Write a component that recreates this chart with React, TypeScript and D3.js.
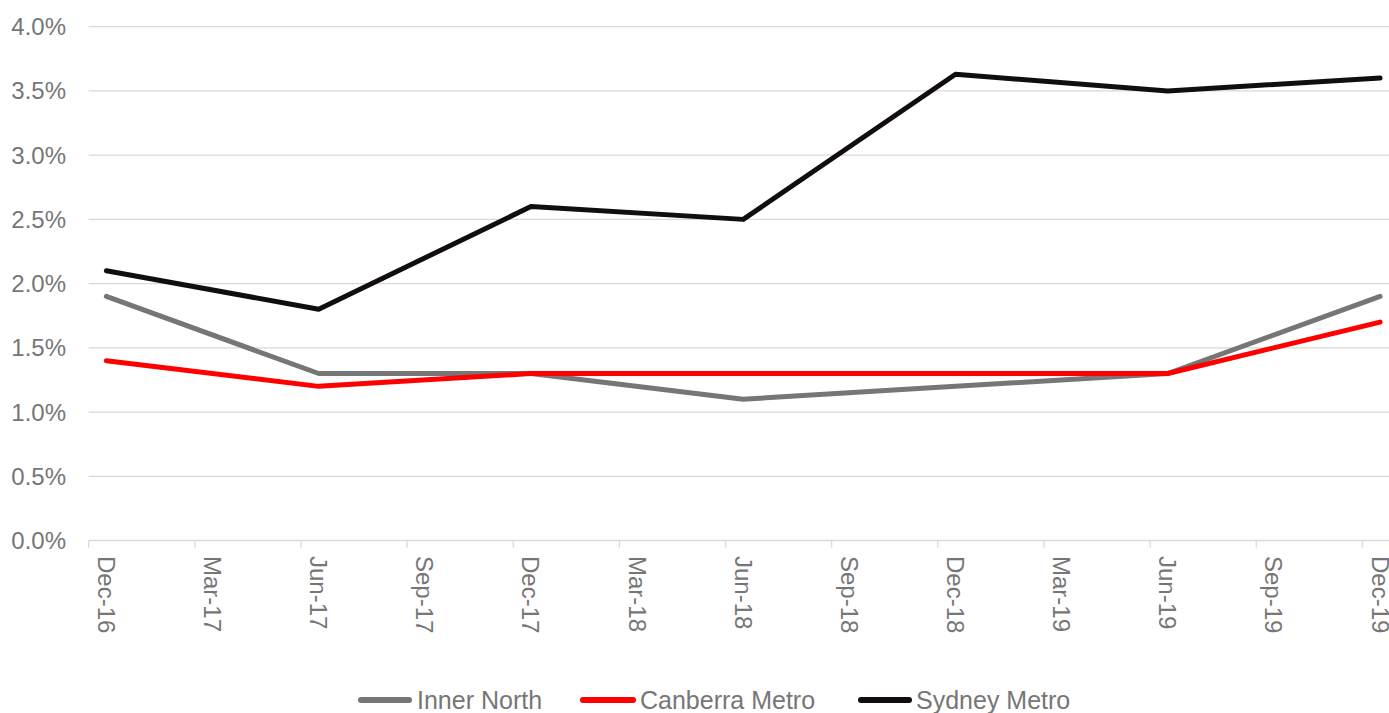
import React from "react";
import * as d3 from "d3";

// half-yearly observations
const periods = ["Dec-16", "Jun-17", "Dec-17", "Jun-18", "Dec-18", "Jun-19", "Dec-19"];
const innerNorth = [1.9, 1.3, 1.3, 1.1, 1.2, 1.3, 1.9];
const canberraMetro = [1.4, 1.2, 1.3, 1.3, 1.3, 1.3, 1.7];
const sydneyMetro = [2.1, 1.8, 2.6, 2.5, 3.63, 3.5, 3.6];

// quarterly axis labels
const tickLabels = [
  "Dec-16", "Mar-17", "Jun-17", "Sep-17", "Dec-17", "Mar-18", "Jun-18",
  "Sep-18", "Dec-18", "Mar-19", "Jun-19", "Sep-19", "Dec-19",
];
const yTicks = [0, 0.5, 1, 1.5, 2, 2.5, 3, 3.5, 4];

const seriesNames = ["Inner North", "Canberra Metro", "Sydney Metro"];
const seriesColors = ["#767676", "#ff0000", "#120e0f"];

const W = 1389;
const H = 713;
const FONT = "'Liberation Sans', Arial, sans-serif";
const TEXT = "#767676";
const GRID = "#d9d9d9";

const monthNames = ["Jan", "Feb", "Mar", "Apr", "May", "Jun", "Jul", "Aug", "Sep", "Oct", "Nov", "Dec"];
// months elapsed since Dec-16
const monthIndex = (label: string) => {
  const [m, y] = label.split("-");
  return (+y - 16) * 12 + monthNames.indexOf(m) - 11;
};

const App = () => {
  const left = 88.7;
  const slot = 35.38; // one month
  const x = d3.scaleLinear().domain([0, 37]).range([left, left + 37 * slot]);
  const y = d3.scaleLinear().domain([0, 4]).range([540.5, 26.7]);

  const line = d3
    .line<number>()
    .x((d, i) => x(monthIndex(periods[i]) + 0.5))
    .y(d => y(d));

  const allSeries = [innerNorth, canberraMetro, sydneyMetro];

  const legendItems = [
    { x1: 358, x2: 412, tx: 417 },
    { x1: 580, x2: 636, tx: 640 },
    { x1: 858, x2: 912, tx: 916 },
  ];

  return (
    <svg
      width={W}
      height={H}
      style={{ position: "absolute", left: 0, top: 0, background: "#fff" }}
      fontFamily={FONT}
    >
      {/* grid + y labels */}
      {yTicks.map(t => (
        <g key={t}>
          <line x1={left} x2={W} y1={y(t)} y2={y(t)} stroke={GRID} strokeWidth={1.3} />
          <text
            x={66}
            y={y(t)}
            textAnchor="end"
            dominantBaseline="central"
            fontSize={24}
            fill={TEXT}
          >
            {d3.format(".1f")(t) + "%"}
          </text>
        </g>
      ))}

      {/* x ticks + labels */}
      {tickLabels.map(lbl => {
        const m = monthIndex(lbl);
        const cx = x(m + 0.5);
        return (
          <g key={lbl}>
            <line x1={x(m)} x2={x(m)} y1={y(0)} y2={y(0) + 7} stroke={GRID} strokeWidth={1.3} />
            <text
              transform={`translate(${cx},${556}) rotate(90)`}
              textAnchor="start"
              dominantBaseline="central"
              fontSize={24}
              fill={TEXT}
            >
              {lbl}
            </text>
          </g>
        );
      })}

      {/* lines */}
      {allSeries.map((s, i) => (
        <path
          key={seriesNames[i]}
          d={line(s) || ""}
          fill="none"
          stroke={seriesColors[i]}
          strokeWidth={5}
          strokeLinecap="round"
          strokeLinejoin="round"
        />
      ))}

      {/* legend */}
      {legendItems.map((it, i) => (
        <g key={seriesNames[i]}>
          <line
            x1={it.x1 + 3}
            x2={it.x2 - 3}
            y1={700}
            y2={700}
            stroke={seriesColors[i]}
            strokeWidth={6}
            strokeLinecap="round"
          />
          <text x={it.tx} y={700} dominantBaseline="central" fontSize={25} fill={TEXT}>
            {seriesNames[i]}
          </text>
        </g>
      ))}
    </svg>
  );
};

export default App;
